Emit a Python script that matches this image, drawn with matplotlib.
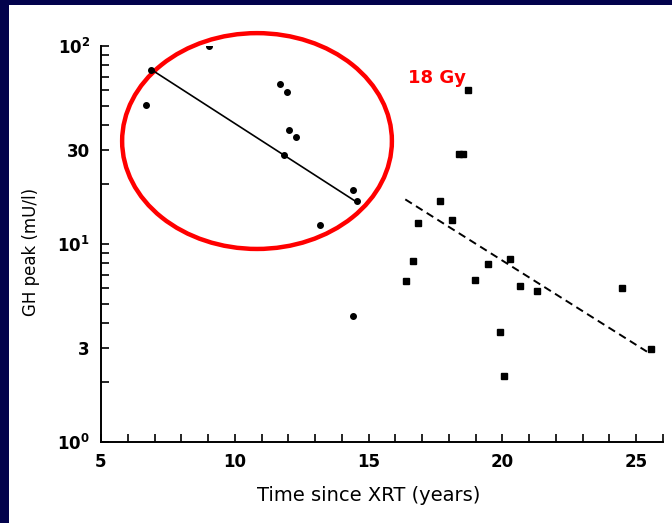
import numpy as np
import matplotlib.pyplot as plt
from matplotlib.patches import Ellipse, Rectangle
from matplotlib.ticker import FixedLocator, NullFormatter

# circles (inside the ellipse) and squares (18 Gy group)
dot_x = [6.70, 6.86, 9.03, 11.68, 11.95, 12.02, 12.30, 11.84, 14.43, 14.57, 13.19, 14.41]
dot_y = [50.4, 76.0, 100.0, 64.1, 58.8, 37.6, 34.6, 28.2, 18.7, 16.5, 12.5, 4.33]

sq_x = [16.40, 16.66, 16.86, 17.67, 18.11, 18.37, 18.53, 18.71, 18.98, 19.47,
        19.90, 20.06, 20.27, 20.65, 21.29, 24.46, 25.56]
sq_y = [6.48, 8.18, 12.7, 16.5, 13.2, 28.4, 28.4, 60.0, 6.60, 7.95,
        3.59, 2.15, 8.40, 6.13, 5.79, 5.97, 2.94]

# fitted lines (end points)
fit1_x = [6.86, 14.49]
fit1_y = [76.3, 16.5]
fit2_x = [16.37, 25.40]
fit2_y = [16.8, 2.86]

y_ticks = [1, 3, 10, 30, 100]
y_labels = [r'$\mathbf{10^{0}}$', '3', r'$\mathbf{10^{1}}$', '30', r'$\mathbf{10^{2}}$']
x_ticks = [5, 10, 15, 20, 25]

W, H = 672, 523
fig = plt.figure(figsize=(W / 100, H / 100), dpi=100, facecolor='#02024c')
fig.add_artist(Rectangle((9 / W, 0), 1, 1 - 5 / H, transform=fig.transFigure,
                         facecolor='white', edgecolor='none', zorder=0))

ax = fig.add_axes([101 / W, (H - 442) / H, 562 / W, 396 / H])
ax.set_facecolor('none')
ax.set_yscale('log')
ax.set_xlim(5, 26)
ax.set_ylim(1, 100)

for s in ['top', 'right']:
    ax.spines[s].set_visible(False)
for s in ['left', 'bottom']:
    ax.spines[s].set_linewidth(1.4)

ax.plot(dot_x, dot_y, 'o', color='black', markersize=4, zorder=3)
ax.plot(sq_x, sq_y, 's', color='black', markersize=5, zorder=3)
ax.plot(fit1_x, fit1_y, '-', color='black', linewidth=1.2)
ax.plot(fit2_x, fit2_y, '--', color='black', linewidth=1.4, dashes=(4, 2.5))

ax.yaxis.set_major_locator(FixedLocator(y_ticks))
ax.set_yticklabels(y_labels)
minor_y = [v * d for d in [1, 10] for v in range(2, 10) if v * d not in y_ticks]
ax.yaxis.set_minor_locator(FixedLocator(minor_y))
ax.yaxis.set_minor_formatter(NullFormatter())

ax.xaxis.set_major_locator(FixedLocator(x_ticks))
ax.xaxis.set_minor_locator(FixedLocator(np.arange(5, 27)))

ax.tick_params(which='both', direction='in', length=6, width=1.2, pad=8,
               labelsize=12)
for lab in ax.get_xticklabels() + ax.get_yticklabels():
    lab.set_fontweight('bold')

ax.set_xlabel('Time since XRT (years)', fontsize=14)
ax.xaxis.set_label_coords(0.477, -0.112)
ax.set_ylabel('GH peak (mU/l)', fontsize=12)
ax.yaxis.set_label_coords(-0.108, 0.48)

ax.add_patch(Ellipse((0.2776, 0.760), 0.480, 0.545, transform=ax.transAxes,
                     fill=False, edgecolor='#ff0000', linewidth=3.2, clip_on=False))
ax.text(0.598, 0.919, '18 Gy', transform=ax.transAxes, color='#ff0000',
        fontsize=13, fontweight='bold', ha='center', va='center')

plt.savefig('out.png', dpi=100, facecolor=fig.get_facecolor())
